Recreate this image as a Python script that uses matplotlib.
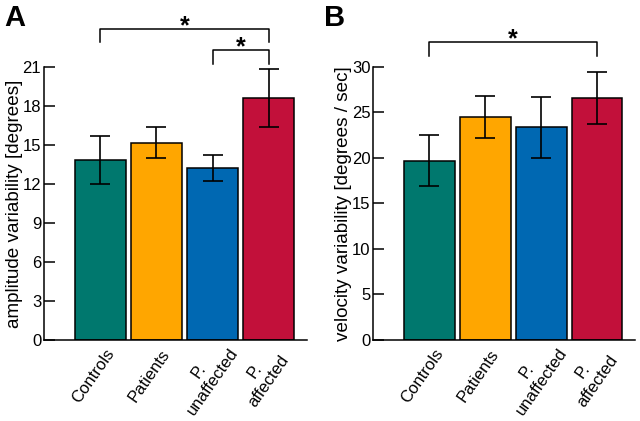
import numpy as np
import matplotlib
matplotlib.use('agg')
import matplotlib.pyplot as plt
from matplotlib.transforms import ScaledTranslation

plt.rcParams['font.family'] = ['Liberation Sans', 'DejaVu Sans']

groups = ['Controls', 'Patients', 'P.\nunaffected', 'P.\naffected']
colors = ['#00786e', '#ffa600', '#0068b2', '#c2103a']

amp_mean = [13.8, 15.15, 13.25, 18.6]
amp_err = [1.85, 1.2, 1.0, 2.25]
amp_ticks = [0, 3, 6, 9, 12, 15, 18, 21]

vel_mean = [19.7, 24.5, 23.35, 26.55]
vel_err = [2.8, 2.3, 3.35, 2.85]
vel_ticks = [0, 5, 10, 15, 20, 25, 30]

# significance brackets: (from, to, height, leg length)
amp_sig = [(0, 3, 23.9, 1.0), (2, 3, 22.3, 1.1)]
vel_sig = [(0, 3, 32.7, 1.5)]


def panel(ax, means, errs, ticks, ylabel, sig):
    x = np.arange(len(means))
    ax.bar(x, means, width=0.91, color=colors, edgecolor='black', linewidth=1.1, zorder=2)
    ax.errorbar(x, means, yerr=errs, fmt='none', ecolor='black', elinewidth=1.2,
                capsize=7, capthick=1.2, zorder=3)
    ax.set_xlim(-1.0, 3.68)
    ax.set_ylim(0, ticks[-1])
    ax.set_yticks(ticks)
    ax.tick_params(axis='y', direction='in', length=8, width=1.1, labelsize=12, pad=2)
    ax.tick_params(axis='x', length=0, pad=26)
    ax.set_xticks(x)
    ax.set_xticklabels(groups, rotation=55, ha='center', va='center',
                       rotation_mode='anchor', multialignment='center', fontsize=12)
    shift = ScaledTranslation(-7 / 100, 0, fig.dpi_scale_trans)
    for lab in ax.get_xticklabels():
        lab.set_transform(lab.get_transform() + shift)
    for s in ['top', 'right']:
        ax.spines[s].set_visible(False)
    for s in ['left', 'bottom']:
        ax.spines[s].set_linewidth(1.1)
    ax.set_ylabel(ylabel, fontsize=13.6, labelpad=0)
    for a, b, h, leg in sig:
        ax.plot([a, a, b, b], [h - leg, h, h, h - leg], color='black', lw=1.1, clip_on=False)
        ax.annotate('*', xy=((a + b) / 2, h), xytext=(0, -7), textcoords='offset points',
                    ha='center', va='bottom', fontsize=18, fontweight='bold',
                    annotation_clip=False)


fig = plt.figure(figsize=(6.4, 4.21), dpi=100)
ax1 = fig.add_axes([0.06875, 0.1924, 0.411, 0.6492])
ax2 = fig.add_axes([0.5833, 0.1924, 0.409, 0.6492])

panel(ax1, amp_mean, amp_err, amp_ticks, 'amplitude variability [degrees]', amp_sig)
panel(ax2, vel_mean, vel_err, vel_ticks, 'velocity variability [degrees / sec]', vel_sig)

fig.text(0.006, 1 - 26 / 421, 'A', fontsize=21, fontweight='bold')
fig.text(0.506, 1 - 26 / 421, 'B', fontsize=21, fontweight='bold')

fig.savefig('out.png', dpi=100)
